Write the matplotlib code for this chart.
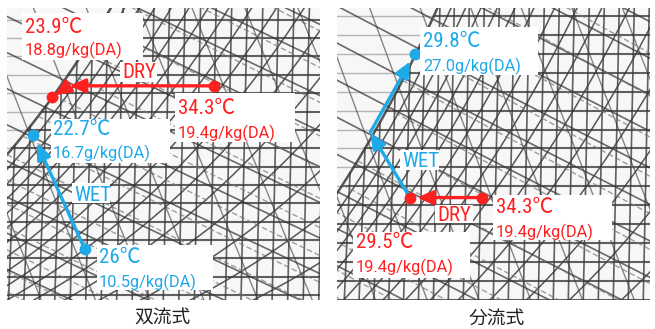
import numpy as np
import matplotlib.pyplot as plt
from matplotlib.patches import Rectangle

# 双流式 (left panel): dry-bulb temperature [°C], humidity ratio [g/kg(DA)]
L_WET_T = [26.0, 22.7]
L_WET_W = [10.5, 16.7]
L_DRY_T = [34.3, 25.0, 23.9]
L_DRY_W = [19.4, 19.4, 18.8]

# 分流式 (right panel)
R_DRY_T = [34.3, 29.5]
R_DRY_W = [19.4, 19.4]
R_WET_T = [29.5, 26.85, 29.8]
R_WET_W = [19.4, 22.85, 27.0]

CAPTIONS = ["双流式", "分流式"]

RED = "#ff2020"
BLUE = "#1ea9e8"
W_PX, H_PX = 655, 329
P = 101.325

NARROW = ["Roboto Condensed", "Noto Sans CJK JP", "DejaVu Sans"]
REG = ["Roboto", "Noto Sans CJK JP", "DejaVu Sans"]


def psat(t):
    return 0.61078 * np.exp(17.27 * t / (t + 237.3))


def w_rh(t, rh):
    ps = rh * psat(t)
    return 622 * ps / (P - ps)


def dew(w):
    ps = w * P / (622 + w)
    a = np.log(ps / 0.61078)
    return 237.3 * a / (17.27 - a)


def draw_chart(ax, xlim, ylim):
    ax.set_xlim(*xlim)
    ax.set_ylim(*ylim)
    ax.set_facecolor("#f7f7f7")
    ax.set_xticks([])
    ax.set_yticks([])
    for s in ax.spines.values():
        s.set_visible(False)
    dark = "#3a3a3a"
    t_all = np.linspace(xlim[0] - 5, xlim[1] + 5, 300)

    # constant humidity ratio
    for w in np.arange(np.floor(ylim[0]), np.ceil(ylim[1]) + 1, 1.0):
        td = dew(w)
        ax.plot([td, xlim[1] + 5], [w, w], color=dark, lw=1.5, alpha=0.8)
        ax.plot([xlim[0] - 5, td], [w, w], color="#888", lw=1.0, alpha=0.6)
    # dry-bulb
    for t in np.arange(np.floor(xlim[0]) - 2, np.ceil(xlim[1]) + 2, 1.0):
        ax.plot([t + 0.0, t + 0.5], [ylim[0] - 2, min(w_rh(t + 0.5, 1.0), ylim[1] + 2)],
                color=dark, lw=1.2, alpha=0.8)
    # relative humidity
    for rh in np.arange(0.05, 1.0001, 0.05):
        ax.plot(t_all, w_rh(t_all, rh), color=dark,
                lw=1.8 if rh > 0.99 else 1.1, alpha=0.85)
    # enthalpy
    w_all = np.linspace(ylim[0] - 3, ylim[1] + 3, 50)
    for h in np.arange(30, 160, 5):
        t = (h - 2.501 * w_all) / (1.006 + 0.00186 * w_all)
        ax.plot(t, w_all, color=dark, lw=1.2, alpha=0.75)
    # wet-bulb (dashed)
    for twb in np.arange(10, 42, 1.0):
        ws = w_rh(twb, 1.0) / 1000
        t = np.linspace(twb, xlim[1] + 10, 60)
        w = ((2501 - 2.326 * twb) * ws - 1.006 * (t - twb)) / (2501 + 1.86 * t - 4.186 * twb)
        ax.plot(t, w * 1000, color="#777", lw=1.0, ls=(0, (4, 2)), alpha=0.7)
    # specific volume
    for v in np.arange(0.84, 0.95, 0.01):
        t = v * P / (0.287055 * (1 + 0.0016078 * w_all)) - 273.15
        ax.plot(t, w_all, color=dark, lw=1.0, alpha=0.6)


def draw_path(ax, T, W, color, shrink_end):
    for i in range(len(T) - 1):
        last = i == len(T) - 2
        ax.annotate("", xy=(T[i + 1], W[i + 1]), xytext=(T[i], W[i]),
                    arrowprops=dict(arrowstyle="-|>,head_length=0.8,head_width=0.35",
                                    color=color, lw=2.4, mutation_scale=12,
                                    shrinkA=0, shrinkB=shrink_end if last else 0),
                    zorder=5)


def fx(x):
    return x / W_PX


def fy(y):
    return 1 - y / H_PX


def box(fig, x0, y0, x1, y1):
    fig.patches.append(Rectangle((fx(x0), fy(y1)), fx(x1) - fx(x0), fy(y0) - fy(y1),
                                 transform=fig.transFigure, facecolor="white",
                                 edgecolor="none", zorder=10))


def label(fig, x, y, txt, color, big=True):
    fig.text(fx(x), fy(y), txt, color=color, ha="left", va="baseline",
             family=NARROW if big else REG, fontsize=15 if big else 11.8, zorder=11)


fig = plt.figure(figsize=(6.55, 3.29), dpi=100)
fig.patch.set_facecolor("white")

axL = fig.add_axes([fx(7), fy(300), fx(320) - fx(7), fy(8) - fy(300)])
axR = fig.add_axes([fx(337), fy(300), fx(650) - fx(337), fy(8) - fy(300)])
draw_chart(axL, (21.0, 41.13), (7.73, 23.64))
draw_chart(axR, (24.63, 45.5), (13.98, 29.43))

# left panel arrows and points
draw_path(axL, L_WET_T, L_WET_W, BLUE, 6)
draw_path(axL, L_DRY_T, L_DRY_W, RED, 2)
axL.plot([L_WET_T[0], L_WET_T[-1]], [L_WET_W[0], L_WET_W[-1]], "o", color=BLUE, ms=7.5, zorder=6)
axL.plot([L_DRY_T[0], L_DRY_T[-1]], [L_DRY_W[0], L_DRY_W[-1]], "o", color=RED, ms=7.5, zorder=6)

# right panel arrows and points
draw_path(axR, R_WET_T, R_WET_W, BLUE, 6)
draw_path(axR, R_DRY_T, R_DRY_W, RED, 5)
axR.plot([R_WET_T[-1]], [R_WET_W[-1]], "o", color=BLUE, ms=7.5, zorder=6)
axR.plot(R_DRY_T, R_DRY_W, "o", color=RED, ms=7.5, zorder=6)

# labels (left)
box(fig, 22, 13, 143, 60)
label(fig, 25, 33, f"{L_DRY_T[-1]}℃", RED)
label(fig, 25, 55, f"{L_DRY_W[-1]}g/kg(DA)", RED, False)
box(fig, 120, 62, 157, 82)
label(fig, 122, 78, "DRY", RED)
box(fig, 175, 93, 295, 142)
label(fig, 178, 114, f"{L_DRY_T[0]}℃", RED)
label(fig, 178, 138, f"{L_DRY_W[0]}g/kg(DA)", RED, False)
box(fig, 51, 119, 170, 163)
label(fig, 53, 135, f"{L_WET_T[-1]}℃", BLUE)
label(fig, 53, 158, f"{L_WET_W[-1]}g/kg(DA)", BLUE, False)
box(fig, 72, 183, 110, 203)
label(fig, 74, 201, "WET", BLUE)
box(fig, 97, 245, 213, 290)
label(fig, 99, 263, f"{L_WET_T[0]:g}℃", BLUE)
label(fig, 99, 287, f"{L_WET_W[0]}g/kg(DA)", BLUE, False)

# labels (right)
box(fig, 420, 27, 538, 75)
label(fig, 423, 47, f"{R_WET_T[-1]}℃", BLUE)
label(fig, 423, 71, f"{R_WET_W[-1]:.1f}g/kg(DA)", BLUE, False)
box(fig, 400, 150, 439, 170)
label(fig, 402, 167, "WET", BLUE)
box(fig, 435, 205, 473, 223)
label(fig, 437, 221, "DRY", RED)
box(fig, 493, 195, 612, 240)
label(fig, 496, 213, f"{R_DRY_T[0]}℃", RED)
label(fig, 496, 237, f"{R_DRY_W[0]}g/kg(DA)", RED, False)
box(fig, 353, 232, 470, 278)
label(fig, 356, 248, f"{R_DRY_T[-1]}℃", RED)
label(fig, 356, 272, f"{R_DRY_W[-1]}g/kg(DA)", RED, False)

# captions
fig.text(fx(162), fy(318), CAPTIONS[0], ha="center", va="center",
         family="Noto Sans CJK JP", fontsize=13.5, color="#222")
fig.text(fx(497), fy(318), CAPTIONS[1], ha="center", va="center",
         family="Noto Sans CJK JP", fontsize=13.5, color="#222")

fig.savefig("out.png", dpi=100)
